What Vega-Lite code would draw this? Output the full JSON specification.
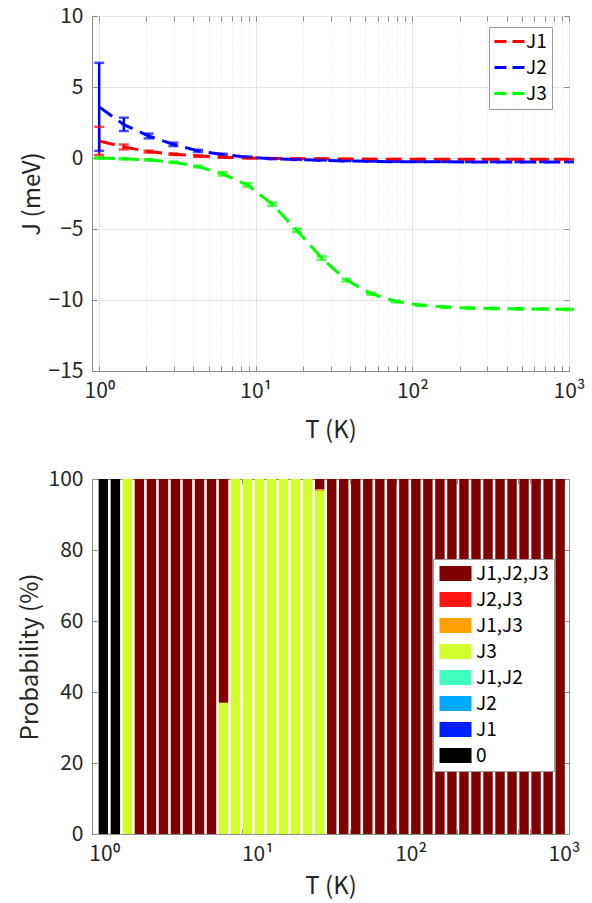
{
  "$schema": "https://vega.github.io/schema/vega-lite/v6.json",
  "padding": {"left": 17, "top": 4, "right": 5, "bottom": 0},
  "background": "white",
  "config": {
    "font": "Noto Sans CJK JP",
    "view": {"stroke": "#8c8c8c", "strokeWidth": 1},
    "axis": {
      "labelFontSize": 21, "titleFontSize": 24, "titleFontWeight": "normal",
      "labelColor": "#262626", "titleColor": "#262626",
      "domainColor": "#8c8c8c", "tickColor": "#8c8c8c", "tickSize": -5,
      "labelPadding": 14, "labelFlush": false, "labelOverlap": false
    }
  },
  "datasets": {
    "J": [
      {"s":"J1","T":1,"J":1.2,"lo":0.2,"hi":2.2},
      {"s":"J1","T":1.438,"J":0.78,"lo":0.6,"hi":0.95},
      {"s":"J1","T":2.069,"J":0.45,"lo":0.38,"hi":0.52},
      {"s":"J1","T":2.976,"J":0.27,"lo":0.22,"hi":0.32},
      {"s":"J1","T":4.281,"J":0.14,"lo":0.1,"hi":0.18},
      {"s":"J1","T":6.158,"J":0.06,"lo":0.03,"hi":0.09},
      {"s":"J1","T":8.859,"J":0.0,"lo":-0.02,"hi":0.02},
      {"s":"J1","T":12.74,"J":-0.03,"lo":-0.05,"hi":-0.01},
      {"s":"J1","T":18.33,"J":-0.05,"lo":-0.06,"hi":-0.04},
      {"s":"J1","T":26.37,"J":-0.06,"lo":-0.07,"hi":-0.05},
      {"s":"J1","T":37.93,"J":-0.07,"lo":-0.08,"hi":-0.06},
      {"s":"J1","T":54.56,"J":-0.08,"lo":-0.09,"hi":-0.07},
      {"s":"J1","T":78.48,"J":-0.08,"lo":-0.09,"hi":-0.07},
      {"s":"J1","T":112.9,"J":-0.08,"lo":-0.09,"hi":-0.07},
      {"s":"J1","T":162.4,"J":-0.09,"lo":-0.1,"hi":-0.08},
      {"s":"J1","T":233.6,"J":-0.09,"lo":-0.1,"hi":-0.08},
      {"s":"J1","T":336.0,"J":-0.09,"lo":-0.1,"hi":-0.08},
      {"s":"J1","T":483.3,"J":-0.09,"lo":-0.1,"hi":-0.08},
      {"s":"J1","T":695.2,"J":-0.09,"lo":-0.1,"hi":-0.08},
      {"s":"J1","T":1000,"J":-0.09,"lo":-0.1,"hi":-0.08},
      {"s":"J2","T":1,"J":3.6,"lo":0.5,"hi":6.7},
      {"s":"J2","T":1.438,"J":2.35,"lo":1.9,"hi":2.84},
      {"s":"J2","T":2.069,"J":1.55,"lo":1.38,"hi":1.72},
      {"s":"J2","T":2.976,"J":0.96,"lo":0.84,"hi":1.08},
      {"s":"J2","T":4.281,"J":0.5,"lo":0.42,"hi":0.58},
      {"s":"J2","T":6.158,"J":0.24,"lo":0.18,"hi":0.3},
      {"s":"J2","T":8.859,"J":0.06,"lo":0.02,"hi":0.1},
      {"s":"J2","T":12.74,"J":-0.05,"lo":-0.08,"hi":-0.02},
      {"s":"J2","T":18.33,"J":-0.11,"lo":-0.13,"hi":-0.09},
      {"s":"J2","T":26.37,"J":-0.16,"lo":-0.18,"hi":-0.14},
      {"s":"J2","T":37.93,"J":-0.21,"lo":-0.22,"hi":-0.2},
      {"s":"J2","T":54.56,"J":-0.24,"lo":-0.25,"hi":-0.23},
      {"s":"J2","T":78.48,"J":-0.26,"lo":-0.27,"hi":-0.25},
      {"s":"J2","T":112.9,"J":-0.27,"lo":-0.28,"hi":-0.26},
      {"s":"J2","T":162.4,"J":-0.27,"lo":-0.28,"hi":-0.26},
      {"s":"J2","T":233.6,"J":-0.28,"lo":-0.29,"hi":-0.27},
      {"s":"J2","T":336.0,"J":-0.28,"lo":-0.29,"hi":-0.27},
      {"s":"J2","T":483.3,"J":-0.28,"lo":-0.29,"hi":-0.27},
      {"s":"J2","T":695.2,"J":-0.28,"lo":-0.29,"hi":-0.27},
      {"s":"J2","T":1000,"J":-0.28,"lo":-0.29,"hi":-0.27},
      {"s":"J3","T":1,"J":0.0,"lo":-0.05,"hi":0.05},
      {"s":"J3","T":1.438,"J":-0.05,"lo":-0.1,"hi":0.0},
      {"s":"J3","T":2.069,"J":-0.13,"lo":-0.18,"hi":-0.08},
      {"s":"J3","T":2.976,"J":-0.3,"lo":-0.35,"hi":-0.25},
      {"s":"J3","T":4.281,"J":-0.6,"lo":-0.66,"hi":-0.54},
      {"s":"J3","T":6.158,"J":-1.12,"lo":-1.24,"hi":-1.0},
      {"s":"J3","T":8.859,"J":-1.9,"lo":-2.02,"hi":-1.78},
      {"s":"J3","T":12.74,"J":-3.25,"lo":-3.37,"hi":-3.13},
      {"s":"J3","T":18.33,"J":-5.1,"lo":-5.22,"hi":-4.98},
      {"s":"J3","T":26.37,"J":-7.05,"lo":-7.17,"hi":-6.93},
      {"s":"J3","T":37.93,"J":-8.6,"lo":-8.7,"hi":-8.5},
      {"s":"J3","T":54.56,"J":-9.55,"lo":-9.62,"hi":-9.48},
      {"s":"J3","T":78.48,"J":-10.1,"lo":-10.16,"hi":-10.04},
      {"s":"J3","T":112.9,"J":-10.37,"lo":-10.42,"hi":-10.32},
      {"s":"J3","T":162.4,"J":-10.5,"lo":-10.55,"hi":-10.45},
      {"s":"J3","T":233.6,"J":-10.57,"lo":-10.62,"hi":-10.52},
      {"s":"J3","T":336.0,"J":-10.6,"lo":-10.65,"hi":-10.55},
      {"s":"J3","T":483.3,"J":-10.62,"lo":-10.67,"hi":-10.57},
      {"s":"J3","T":695.2,"J":-10.64,"lo":-10.69,"hi":-10.59},
      {"s":"J3","T":1000,"J":-10.66,"lo":-10.71,"hi":-10.61}
    ],
    "P": [
      {"T":0.99,"state":"0","p":100},
      {"T":1.186,"state":"0","p":100},
      {"T":1.42,"state":"J3","p":100},
      {"T":1.701,"state":"J1,J2,J3","p":100},
      {"T":2.038,"state":"J1,J2,J3","p":100},
      {"T":2.441,"state":"J1,J2,J3","p":100},
      {"T":2.924,"state":"J1,J2,J3","p":100},
      {"T":3.502,"state":"J1,J2,J3","p":100},
      {"T":4.195,"state":"J1,J2,J3","p":100},
      {"T":5.025,"state":"J1,J2,J3","p":100},
      {"T":6.019,"state":"J3","p":37},
      {"T":6.019,"state":"J1,J2,J3","p":63},
      {"T":7.21,"state":"J3","p":100},
      {"T":8.636,"state":"J3","p":100},
      {"T":10.34,"state":"J3","p":100},
      {"T":12.39,"state":"J3","p":100},
      {"T":14.84,"state":"J3","p":100},
      {"T":17.78,"state":"J3","p":100},
      {"T":21.3,"state":"J3","p":100},
      {"T":25.51,"state":"J3","p":96.6},
      {"T":25.51,"state":"J1,J3","p":0.5},
      {"T":25.51,"state":"J1,J2,J3","p":2.9},
      {"T":30.56,"state":"J1,J2,J3","p":100},
      {"T":36.6,"state":"J1,J2,J3","p":100},
      {"T":43.85,"state":"J1,J2,J3","p":100},
      {"T":52.52,"state":"J1,J2,J3","p":100},
      {"T":62.91,"state":"J1,J2,J3","p":100},
      {"T":75.36,"state":"J1,J2,J3","p":100},
      {"T":90.26,"state":"J1,J2,J3","p":100},
      {"T":108.1,"state":"J1,J2,J3","p":100},
      {"T":129.5,"state":"J1,J2,J3","p":100},
      {"T":155.1,"state":"J1,J2,J3","p":100},
      {"T":185.8,"state":"J1,J2,J3","p":100},
      {"T":222.6,"state":"J1,J2,J3","p":100},
      {"T":266.6,"state":"J1,J2,J3","p":100},
      {"T":319.4,"state":"J1,J2,J3","p":100},
      {"T":382.6,"state":"J1,J2,J3","p":100},
      {"T":458.3,"state":"J1,J2,J3","p":100},
      {"T":548.9,"state":"J1,J2,J3","p":100},
      {"T":657.6,"state":"J1,J2,J3","p":100},
      {"T":787.7,"state":"J1,J2,J3","p":100},
      {"T":943.5,"state":"J1,J2,J3","p":100}
    ]
  },
  "bounds": "flush",
  "spacing": 108,
  "resolve": {"scale": {"color": "independent", "x": "independent", "y": "independent"}, "legend": {"color": "independent"}},
  "vconcat": [
    {
      "width": 477, "height": 355,
      "data": {"name": "J"},
      "resolve": {"axis": {"x": "independent", "y": "independent"}},
      "layer": [
        {
          "mark": {"type": "line", "strokeDash": [16, 8], "strokeWidth": 3},
          "encoding": {
            "x": {"field": "T", "type": "quantitative",
              "scale": {"type": "log", "domain": [0.9, 1000], "nice": false},
              "axis": {"title": "T (K)", "values": [1,2,3,4,5,6,7,8,9,10,20,30,40,50,60,70,80,90,100,200,300,400,500,600,700,800,900,1000],
                "labelExpr": "datum.value == 1 ? '10⁰' : datum.value == 10 ? '10¹' : datum.value == 100 ? '10²' : datum.value == 1000 ? '10³' : ''",
                "grid": true, "gridColor": "#e3e3e3",
                "gridDash": {"condition": {"test": "indexof([1,10,100,1000], datum.value) < 0", "value": [1, 2]}, "value": []},
                "titlePadding": 17}},
            "y": {"field": "J", "type": "quantitative",
              "scale": {"domain": [-15, 10], "nice": false},
              "axis": {"title": "J (meV)", "values": [-15,-10,-5,0,5,10], "grid": true, "gridColor": "#e6e6e6", "titlePadding": 4}},
            "color": {"field": "s", "type": "nominal",
              "scale": {"domain": ["J1","J2","J3"], "range": ["#ff0000","#0000ff","#00ff00"]},
              "legend": {"orient": "none", "legendX": 397, "legendY": 11, "title": null,
                "fillColor": "white", "strokeColor": "#999999", "padding": 5,
                "labelFontSize": 19, "labelColor": "#000000",
                "symbolType": "M-2,0H2", "symbolSize": 225, "symbolDash": [12, 6], "symbolStrokeWidth": 3,
                "symbolOffset": 6, "labelOffset": 7, "rowPadding": 6}}
          }
        },
        {
          "mark": {"type": "rule", "strokeWidth": 2.5},
          "encoding": {
            "x": {"field": "T", "type": "quantitative",
              "axis": {"orient": "top", "title": null, "labels": false, "domain": false, "grid": false,
                "values": [1,2,3,4,5,6,7,8,9,10,20,30,40,50,60,70,80,90,100,200,300,400,500,600,700,800,900,1000]}},
            "y": {"field": "lo", "type": "quantitative",
              "axis": {"orient": "right", "title": null, "labels": false, "domain": false, "grid": false, "values": [-15,-10,-5,0,5,10]}},
            "y2": {"field": "hi"},
            "color": {"field": "s", "type": "nominal", "legend": null}
          }
        },
        {
          "mark": {"type": "tick", "orient": "horizontal", "size": 10, "thickness": 2.5},
          "encoding": {
            "x": {"field": "T", "type": "quantitative", "axis": null},
            "y": {"field": "lo", "type": "quantitative", "axis": null},
            "color": {"field": "s", "type": "nominal", "legend": null}
          }
        },
        {
          "mark": {"type": "tick", "orient": "horizontal", "size": 10, "thickness": 2.5},
          "encoding": {
            "x": {"field": "T", "type": "quantitative", "axis": null},
            "y": {"field": "hi", "type": "quantitative", "axis": null},
            "color": {"field": "s", "type": "nominal", "legend": null}
          }
        }
      ]
    },
    {
      "width": 477, "height": 355,
      "data": {"name": "P"},
      "resolve": {"axis": {"x": "independent", "y": "independent"}},
      "layer": [
        {
          "mark": {"type": "bar", "size": 9.4, "orient": "vertical", "clip": true},
          "encoding": {
            "x": {"field": "T", "type": "quantitative",
              "scale": {"type": "log", "domain": [0.9, 1000], "nice": false},
              "axis": {"title": "T (K)", "values": [1,2,3,4,5,6,7,8,9,10,20,30,40,50,60,70,80,90,100,200,300,400,500,600,700,800,900,1000],
                "labelExpr": "datum.value == 1 ? '10⁰' : datum.value == 10 ? '10¹' : datum.value == 100 ? '10²' : datum.value == 1000 ? '10³' : ''",
                "grid": false, "titlePadding": 10}},
            "y": {"field": "p", "type": "quantitative", "stack": "zero",
              "scale": {"domain": [0, 100], "nice": false},
              "axis": {"title": "Probability (%)", "values": [0,20,40,60,80,100], "grid": false, "titlePadding": 6}},
            "color": {"field": "state", "type": "nominal",
              "scale": {"domain": ["J1,J2,J3","J2,J3","J1,J3","J3","J1,J2","J2","J1","0"],
                "range": ["#800000","#ff1410","#ffa000","#d2ff2c","#40ffc0","#00aaff","#0020ff","#000000"]},
              "legend": {"orient": "none", "legendX": 341, "legendY": 80, "title": null,
                "fillColor": "white", "strokeColor": "#999999", "padding": 5,
                "labelFontSize": 19, "labelColor": "#000000",
                "symbolType": "M-2,-0.94H2V0.94H-2Z", "symbolSize": 256, "symbolStrokeWidth": 0,
                "symbolOffset": 8, "labelOffset": 11, "rowPadding": 6}}
          }
        },
        {
          "mark": {"type": "bar", "size": 9.4, "orient": "vertical", "opacity": 0},
          "encoding": {
            "x": {"field": "T", "type": "quantitative",
              "axis": {"orient": "top", "title": null, "labels": false, "domain": false,
                "values": [1,2,3,4,5,6,7,8,9,10,20,30,40,50,60,70,80,90,100,200,300,400,500,600,700,800,900,1000]}},
            "y": {"field": "p", "type": "quantitative", "stack": "zero",
              "axis": {"orient": "right", "title": null, "labels": false, "domain": false, "values": [0,20,40,60,80,100]}},
            "color": {"field": "state", "type": "nominal", "legend": null}
          }
        }
      ]
    }
  ]
}
